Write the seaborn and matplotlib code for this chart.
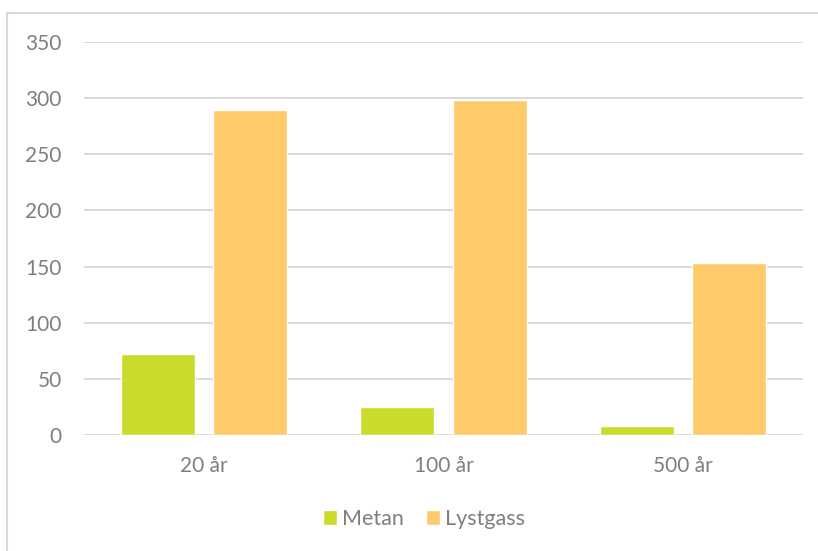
import numpy as np
import pandas as pd
import matplotlib.pyplot as plt
import seaborn as sns
from matplotlib.patches import Rectangle

perioder = ['20 år', '100 år', '500 år']
metan = [72, 25, 7.6]
lystgass = [289, 298, 153]

df = pd.DataFrame({
    'periode': perioder * 2,
    'gass': ['Metan'] * 3 + ['Lystgass'] * 3,
    'verdi': metan + lystgass,
})

farger = {'Metan': '#CADB2C', 'Lystgass': '#FFCA69'}
tekst = '#7f7f7f'

sns.set_style('white')
plt.rcParams['font.family'] = ['Lato', 'DejaVu Sans']

fig = plt.figure(figsize=(8.18, 5.51), dpi=100)
ax = fig.add_axes([84 / 818, 1 - 435 / 551, (803 - 84) / 818, (435 - 42) / 551])

sns.barplot(data=df, x='periode', y='verdi', hue='gass', palette=farger,
            width=0.77, gap=0.2, ax=ax, saturation=1, legend=True)

ax.set_ylim(0, 350)
ax.set_xlim(-0.5, 2.5)
ax.set_yticks(range(0, 351, 50))
ax.yaxis.grid(True, color='#d9d9d9', linewidth=1.4)
ax.set_axisbelow(True)
for s in ax.spines.values():
    s.set_visible(False)
ax.axhline(0, color='#d9d9d9', linewidth=1.4, zorder=0.5)
ax.set_xlabel('')
ax.set_ylabel('')
ax.tick_params(axis='both', length=0, labelsize=15, colors=tekst)
ax.tick_params(axis='y', pad=16)
ax.tick_params(axis='x', pad=15)

ax.legend(loc='center', bbox_to_anchor=(424 / 818, 1 - 519 / 551),
          bbox_transform=fig.transFigure, ncol=2, frameon=False,
          fontsize=15.5, labelcolor=tekst, handlelength=0.65, handleheight=0.65,
          handletextpad=0.25, columnspacing=1.0)

# ytre ramme
fig.patches.append(Rectangle((7 / 818, -0.1), 1.2, 1 - 12.5 / 551 + 0.1,
                             transform=fig.transFigure, fill=False,
                             edgecolor='#d9d9d9', linewidth=1.5))

fig.savefig('out.png', dpi=100)
